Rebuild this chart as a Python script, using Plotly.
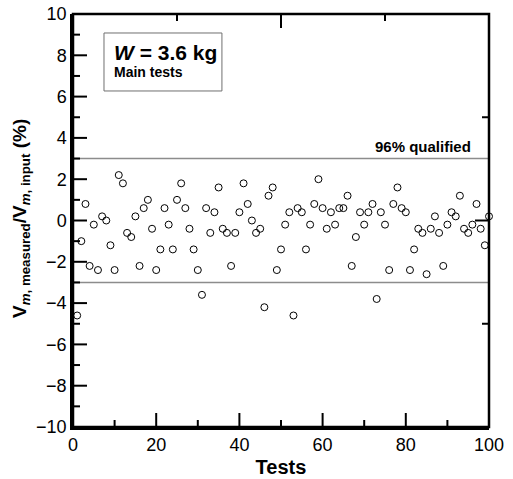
import plotly.graph_objects as go

tests = list(range(1, 101))
deviation = [
    -4.6, -1.0, 0.8, -2.2, -0.2, -2.4, 0.2, 0.0, -1.2, -2.4,
    2.2, 1.8, -0.6, -0.8, 0.2, -2.2, 0.6, 1.0, -0.4, -2.4,
    -1.4, 0.6, -0.2, -1.4, 1.0, 1.8, 0.6, -0.4, -1.4, -2.4,
    -3.6, 0.6, -0.6, 0.4, 1.6, -0.4, -0.6, -2.2, -0.6, 0.4,
    1.8, 0.8, 0.0, -0.6, -0.4, -4.2, 1.2, 1.6, -2.4, -1.4,
    -0.2, 0.4, -4.6, 0.6, 0.4, -1.4, -0.2, 0.8, 2.0, 0.6,
    -0.4, 0.4, -0.2, 0.6, 0.6, 1.2, -2.2, -0.8, 0.4, -0.2,
    0.4, 0.8, -3.8, 0.4, -0.2, -2.4, 0.8, 1.6, 0.6, 0.4,
    -2.4, -1.4, -0.4, -0.6, -2.6, -0.4, 0.2, -0.6, -2.2, -0.2,
    0.4, 0.2, 1.2, -0.4, -0.6, -0.2, 0.8, -0.4, -1.2, 0.2,
]
limits = [3, -3]
x_range = [0, 100]
y_range = [-10, 10]

# tick positions (axis values)
bottom_major = [0, 20, 40, 60, 80, 100]
bottom_minor = [10, 30, 50, 70, 90]
top_major = [0, 50, 100]
top_minor = [25, 75]
left_major = [-10, -8, -6, -4, -2, 0, 2, 4, 6, 8, 10]
left_minor = [-9, -7, -5, -3, -1, 1, 3, 5, 7, 9]
right_major = [-10, 0, 10]
right_minor = [-5, 5]

FONT = "Liberation Sans, Arial, sans-serif"
MAJOR_LEN, MINOR_LEN, TICK_W = 14, 7, 2

fig = go.Figure()
fig.add_trace(go.Scatter(
    x=tests, y=deviation, mode="markers",
    marker=dict(symbol="circle-open", size=7, color="black", line=dict(width=1, color="black")),
    cliponaxis=False, showlegend=False, hoverinfo="skip",
))

for lim in limits:
    fig.add_shape(type="line", xref="paper", x0=0, x1=1, yref="y", y0=lim, y1=lim,
                  line=dict(color="#8c8c8c", width=1.5), layer="below")

fig.add_shape(type="rect", xref="paper", yref="paper", x0=0.0745, x1=0.358, y0=0.8136, y1=0.954,
              line=dict(color="#707070", width=1), fillcolor="white", layer="below")

# frame around the plot area
fig.add_shape(type="rect", xref="paper", yref="paper", x0=0, x1=1, y0=0, y1=1,
              line=dict(color="black", width=2.5), fillcolor="rgba(0,0,0,0)", layer="below")

tick_line = dict(color="black", width=TICK_W)

def xticks(vals, length, top):
    for v in vals:
        fig.add_shape(type="line", xref="x", x0=v, x1=v, yref="paper", ysizemode="pixel",
                      yanchor=1 if top else 0, y0=0, y1=-length if top else length,
                      line=tick_line, layer="below")

def yticks(vals, length, right):
    for v in vals:
        fig.add_shape(type="line", yref="y", y0=v, y1=v, xref="paper", xsizemode="pixel",
                      xanchor=1 if right else 0, x0=0, x1=-length if right else length,
                      line=tick_line, layer="below")

xticks(bottom_major, MAJOR_LEN, False)
xticks(bottom_minor, MINOR_LEN, False)
xticks(top_major, MAJOR_LEN, True)
xticks(top_minor, MINOR_LEN, True)
yticks(left_major, MAJOR_LEN, False)
yticks(left_minor, MINOR_LEN, False)
yticks(right_major, MAJOR_LEN, True)
yticks(right_minor, MINOR_LEN, True)

tick_font = dict(family=FONT, size=18, color="black")
common = dict(ticks="", showline=True, linecolor="black", linewidth=2.5,
              showgrid=False, zeroline=False, automargin=False)

fig.update_layout(
    template="none",
    width=513, height=479,
    margin=dict(l=73, r=24, t=14, b=52),
    paper_bgcolor="white", plot_bgcolor="white",
    font=dict(family=FONT, color="black"),
    xaxis=dict(
        range=x_range, tickmode="array", tickvals=bottom_major, tickfont=tick_font,
        tickprefix="<b>", ticksuffix="</b>",
        title=dict(text="<b>Tests</b>", font=dict(family=FONT, size=20, color="black"), standoff=6),
        **common,
    ),
    yaxis=dict(range=y_range, tickmode="array", tickvals=left_major, tickfont=tick_font,
               tickprefix="<b>", ticksuffix="</b>", **common),
)

fig.add_annotation(
    xref="paper", yref="paper", x=0.0937, y=0.9056, xanchor="left", yanchor="middle",
    text="<b><i>W</i> = 3.6 kg</b>", showarrow=False,
    font=dict(family=FONT, size=21, color="black"),
)
fig.add_annotation(
    xref="paper", yref="paper", x=0.0937, y=0.8596, xanchor="left", yanchor="middle",
    text="<b>Main tests</b>", showarrow=False,
    font=dict(family=FONT, size=14, color="black"),
)
fig.add_annotation(
    xref="paper", yref="paper", x=0.9615, y=0.678, xanchor="right", yanchor="middle",
    text="<b>96% qualified</b>", showarrow=False,
    font=dict(family=FONT, size=15, color="black"),
)
fig.add_annotation(
    xref="paper", yref="paper", x=-0.125, y=0.5036, xanchor="center", yanchor="middle",
    textangle=-90, showarrow=False,
    text="<b>V<sub><i>m</i>, measured</sub>/V<sub><i>m</i>, input</sub> (%)</b>",
    font=dict(family=FONT, size=19, color="black"),
)

fig.write_html("out.html", config={"displayModeBar": False},
               post_script="document.body.style.margin='0';")
